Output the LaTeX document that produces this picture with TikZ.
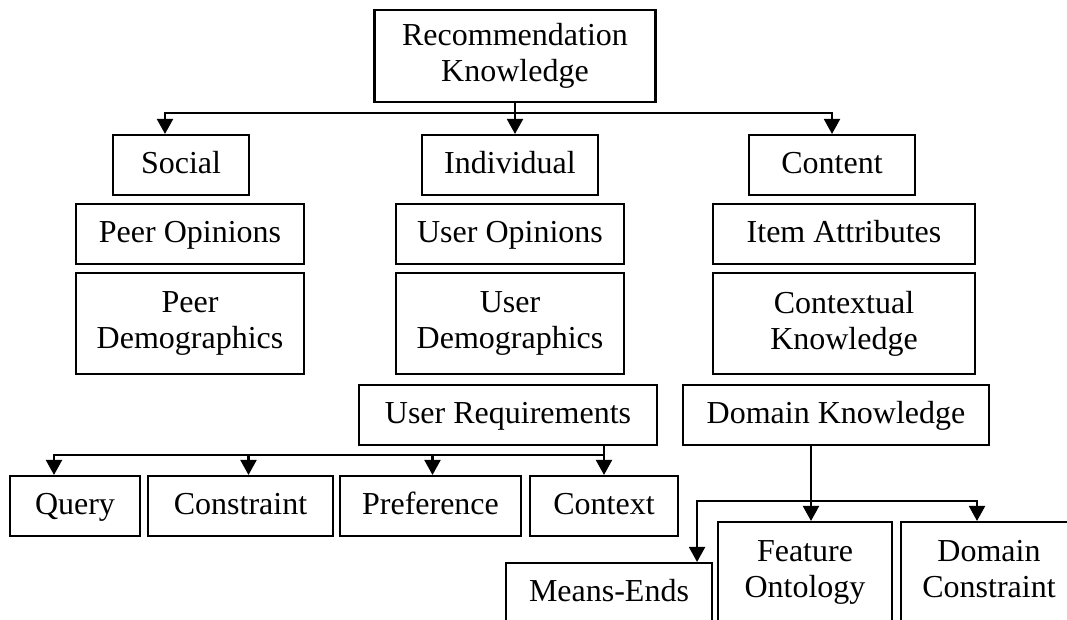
\documentclass[tikz,border=0pt]{standalone}
\usepackage{fontspec}
\setmainfont{Liberation Serif}
\usetikzlibrary{arrows.meta,positioning}

\begin{document}
\begin{tikzpicture}[x=1pt,y=-1pt,
  box/.style={draw,line width=2.1pt,align=center,inner sep=0pt,font=\fontsize{32}{36}\selectfont},
  one/.style={box,minimum height=60pt,text height=21pt,text depth=5pt},
  two/.style={box,minimum height=101pt},
  wire/.style={line width=2.1pt},
  tip/.style={wire,-{Triangle[width=16pt,length=15pt]}}]
  \useasboundingbox (0,0) rectangle (1067,619);
  \clip (0,0) rectangle (1067,619);
  % root and the three kinds of knowledge
  \node[box,minimum width=281pt,minimum height=92pt] (root) at (515,56) {Recommendation\\Knowledge};
  \node[one,minimum width=136pt] (social) at (181,165) {Social};
  \node[one,minimum width=176pt] (indiv) at (510,165) {Individual};
  \node[one,minimum width=166pt] (content) at (832,165) {Content};
  % what each kind holds
  \node[one,minimum width=228pt] (peerop) at (190,234) {Peer Opinions};
  \node[two,minimum width=228pt] (peerdem) at (190,323.5) {Peer\\Demographics};
  \node[one,minimum width=228pt] (userop) at (510,234) {User Opinions};
  \node[two,minimum width=228pt] (userdem) at (510,323.5) {User\\Demographics};
  \node[one,minimum width=262pt] (itemattr) at (844,234) {Item Attributes};
  \node[two,minimum width=262pt] (ctxknow) at (844,323.5) {Contextual\\Knowledge};
  \node[one,minimum width=298pt] (usereq) at (508,415) {User Requirements};
  \node[one,minimum width=306pt] (domknow) at (836,415) {Domain Knowledge};
  % user requirements
  \node[one,minimum width=130pt] (query) at (75,506) {Query};
  \node[one,minimum width=185pt] (constr) at (240.5,506) {Constraint};
  \node[one,minimum width=181pt] (pref) at (430.5,506) {Preference};
  \node[one,minimum width=148pt] (context) at (604,506) {Context};
  % domain knowledge
  \node[one,minimum width=206pt] (means) at (609,593) {Means-Ends};
  \node[two,minimum width=174pt] (feature) at (805,572.5) {Feature\\Ontology};
  \node[two,minimum width=176pt] (domcon) at (989,572.5) {Domain\\Constraint\vphantom{g}};

  \draw[tip] (root.south) -- (root.south |- indiv.north);
  \draw[tip] (root.south) ++(0,10) -| ([xshift=-16pt]social.north);
  \draw[tip] (root.south) ++(0,10) -| (content.north);

  \draw[wire] (context.north |- usereq.south) -- ++(0,9) coordinate (reqbus);
  \draw[tip] (reqbus) -- (context.north);
  \draw[tip] (reqbus) -| ([xshift=-21pt]query.north);
  \draw[tip] (reqbus) -| ([xshift=8pt]constr.north);
  \draw[tip] (reqbus) -| ([xshift=2pt]pref.north);

  \coordinate (featin) at ([xshift=6pt]feature.north);
  \draw[tip] (featin |- domknow.south) -- (featin);
  \path (featin |- domknow.south) ++(0,55) coordinate (dombus);
  \draw[tip] (dombus) -| ([xshift=-16pt]means.north east);
  \draw[tip] (dombus) -| ([xshift=-12pt]domcon.north);
\end{tikzpicture}
\end{document}
